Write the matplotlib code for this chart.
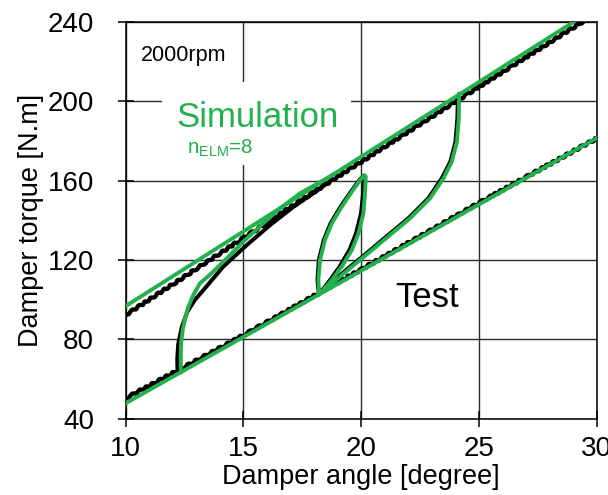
import matplotlib
matplotlib.use("Agg")
import matplotlib.pyplot as plt
from matplotlib.patches import Rectangle

plt.rcParams['font.family'] = ['Liberation Sans', 'DejaVu Sans']
plt.rcParams['mathtext.fontset'] = 'custom'
plt.rcParams['mathtext.rm'] = 'Liberation Sans'
plt.rcParams['mathtext.it'] = 'Liberation Sans:italic'

GREEN = '#22b14c'

# ---- measured (test) curves ----
test_upper_x = [10, 18.25, 24.15, 30]
test_upper_y = [92.2, 156.3, 201.0, 244.7]
test_lower_x = [10, 15, 20, 25, 30]
test_lower_y = [50.2, 82.0, 115.2, 148.8, 181.4]

test_load1_x = [12.20, 12.19, 12.23, 12.38, 12.62, 12.95, 13.30, 14.14, 15.14, 16.13,
                17.12, 18.11, 18.5]
test_load1_y = [64.0, 70.0, 77.5, 86.0, 94.0, 100.0, 104.8, 116.6, 127.5, 137.6,
                146.8, 154.8, 158.2]
test_unload1_x = [24.1, 24.08, 24.0, 23.78, 23.42, 22.85, 22.0, 21.15, 20.3, 19.45, 18.62, 18.22]
test_unload1_y = [200.6, 191.4, 179.6, 169.5, 161.2, 151.1, 141.0, 132.6, 124.1, 115.8, 107.3, 103.0]
test_loop2_x = [18.2, 18.14, 18.2, 18.41, 18.7, 19.12, 19.56, 19.92, 20.1, 20.12, 20.08,
                19.99, 19.78, 19.5, 19.08, 18.68, 18.3, 18.2]
test_loop2_y = [103.0, 109.9, 120.0, 130.1, 138.5, 146.8, 154.4, 160.3, 162.4, 161.6, 153.6,
                143.5, 133.4, 125.0, 116.6, 109.9, 104.0, 103.0]

# ---- simulation curves ----
sim_upper_x = [10, 30]
sim_upper_y = [96.7, 247.5]
sim_lower_x = [10, 30]
sim_lower_y = [47.7, 181.5]

sim_load1_x = [12.34, 12.34, 12.35, 12.42, 12.52, 12.66, 12.87, 13.15, 13.58, 14.36, 14.99,
               15.84, 16.55, 17.40, 18.25, 18.8]
sim_load1_y = [63.4, 71.2, 77.9, 84.6, 90.5, 96.4, 102.3, 108.2, 112.6, 121.6, 129.2,
               138.5, 146.0, 153.6, 159.2, 163.0]
sim_unload1_x = [24.15, 24.14, 24.06, 23.84, 23.49, 22.92, 22.07, 21.22, 20.37, 19.52, 18.67, 18.22]
sim_unload1_y = [203.8, 191.4, 179.6, 169.5, 161.2, 151.1, 141.0, 132.6, 124.1, 115.8, 107.3, 102.8]
sim_loop2_x = [18.21, 18.18, 18.25, 18.46, 18.75, 19.17, 19.60, 19.95, 20.13, 20.19, 20.16,
               20.09, 19.88, 19.60, 19.17, 18.75, 18.32, 18.21]
sim_loop2_y = [103.2, 109.9, 120.0, 130.1, 138.5, 146.8, 154.4, 160.3, 162.8, 162.0, 153.6,
               143.5, 133.4, 125.0, 116.6, 109.9, 104.0, 103.2]

x_ticks = [10, 15, 20, 25, 30]
y_ticks = [40, 80, 120, 160, 200, 240]

fig = plt.figure(figsize=(6.08, 4.95), dpi=100)
ax = fig.add_axes([0.2067, 0.1545, 0.775, 0.801])

ax.set_xlim(10, 30)
ax.set_ylim(40, 240)
ax.set_xticks(x_ticks)
ax.set_yticks(y_ticks)
ax.grid(True, color='#2a2a2a', linewidth=1.0)
ax.set_axisbelow(True)
for sp in ax.spines.values():
    sp.set_linewidth(1.1)
ax.tick_params(direction='inout', length=11.5, width=1.1, labelsize=20)
ax.tick_params(axis='y', pad=17)
ax.tick_params(axis='x', pad=6.5)

# white panel behind the simulation caption
ax.add_patch(Rectangle((11.55, 167.9), 8.02, 41.8, facecolor='white',
                       edgecolor='none', zorder=1))

# test data (black, slightly rippled)
for xs, ys in [(test_upper_x, test_upper_y), (test_lower_x, test_lower_y)]:
    ln, = ax.plot(xs, ys, color='black', lw=3.1, zorder=2, solid_capstyle='butt')
    ln.set_sketch_params(scale=1.0, length=9, randomness=2)
for xs, ys in [(test_load1_x, test_load1_y), (test_unload1_x, test_unload1_y),
               (test_loop2_x, test_loop2_y)]:
    ax.plot(xs, ys, color='black', lw=2.9, zorder=2, solid_joinstyle='round')

# simulation (green)
for xs, ys in [(sim_upper_x, sim_upper_y), (sim_lower_x, sim_lower_y),
               (sim_load1_x, sim_load1_y), (sim_unload1_x, sim_unload1_y),
               (sim_loop2_x, sim_loop2_y)]:
    ax.plot(xs, ys, color=GREEN, lw=2.8, zorder=3, solid_joinstyle='round')

ax.text(10.64, 220.5, '2000rpm', fontsize=15.5, va='baseline', ha='left', zorder=4)
ax.text(12.14, 187.2, 'Simulation', fontsize=25, color=GREEN, va='baseline',
        ha='left', zorder=4)
ax.text(12.59, 173.4, r'n$_{\mathrm{ELM}}$=8', fontsize=14.8, color=GREEN,
        va='baseline', ha='left', zorder=4)
ax.text(21.45, 96.1, 'Test', fontsize=25, va='baseline', ha='left', zorder=4)

ax.set_xlabel('Damper angle [degree]', fontsize=19.5, labelpad=2)
ax.set_ylabel('Damper torque [N.m]', fontsize=19.5, labelpad=3)

fig.savefig('out.png', dpi=100)
